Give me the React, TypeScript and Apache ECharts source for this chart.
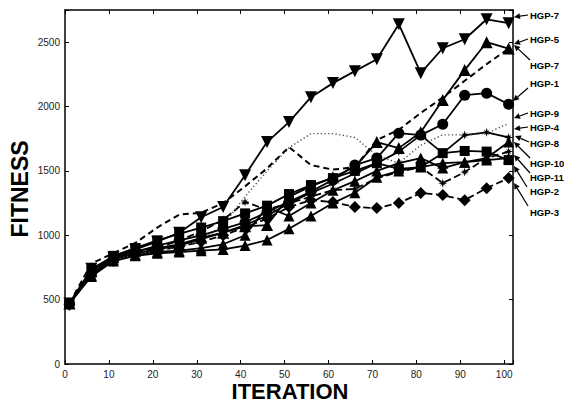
import React, { useEffect, useRef } from "react";
import * as echarts from "echarts";

const ITER = [1, 6, 11, 16, 21, 26, 31, 36, 41, 46, 51, 56, 61, 66, 71, 76, 81, 86, 91, 96, 101];

const HGP7 = [470, 740, 830, 890, 950, 1020, 1140, 1220, 1467, 1724, 1879, 2073, 2182, 2275, 2368, 2640, 2259, 2453, 2523, 2678, 2648];
const HGP5 = [470, 720, 830, 880, 900, 930, 980, 1020, 1070, 1079, 1300, 1380, 1450, 1530, 1724, 1677, 1800, 2050, 2283, 2500, 2450];
const HGP7B = [470, 780, 860, 940, 1060, 1160, 1175, 1250, 1380, 1520, 1685, 1545, 1510, 1530, 1740, 1820, 1950, 2070, 2200, 2330, 2450];
const HGP1 = [470, 700, 820, 870, 920, 960, 1000, 1050, 1100, 1180, 1260, 1340, 1430, 1545, 1600, 1793, 1778, 1863, 2088, 2104, 2018];
const HGP9 = [470, 720, 810, 850, 880, 910, 960, 1080, 1300, 1500, 1680, 1790, 1790, 1760, 1620, 1560, 1700, 1780, 1780, 1790, 1870];
const HGP4 = [470, 700, 820, 860, 890, 920, 970, 1020, 1080, 1150, 1250, 1330, 1400, 1480, 1560, 1650, 1778, 1638, 1778, 1800, 1760];
const HGP8 = [470, 690, 810, 850, 870, 880, 900, 930, 1000, 1219, 1150, 1250, 1350, 1420, 1500, 1560, 1600, 1522, 1568, 1600, 1724];
const HGP10 = [470, 730, 840, 900, 960, 1010, 1060, 1110, 1170, 1230, 1320, 1390, 1444, 1500, 1560, 1515, 1530, 1638, 1655, 1650, 1584];
const HGP11 = [470, 700, 810, 860, 900, 960, 1030, 1120, 1258, 1200, 1250, 1300, 1350, 1360, 1444, 1491, 1530, 1405, 1491, 1600, 1650];
const HGP2 = [470, 680, 800, 840, 860, 870, 880, 890, 920, 963, 1050, 1150, 1250, 1330, 1450, 1500, 1530, 1560, 1568, 1584, 1600];
const HGP3 = [460, 700, 800, 850, 880, 910, 950, 1000, 1060, 1130, 1219, 1273, 1258, 1219, 1211, 1250, 1328, 1312, 1273, 1366, 1444];

const X_TICKS = [0, 10, 20, 30, 40, 50, 60, 70, 80, 90, 100];
const Y_TICKS = [0, 500, 1000, 1500, 2000, 2500];

const LABELS = ["HGP-7", "HGP-5", "HGP-7", "HGP-1", "HGP-9", "HGP-4", "HGP-8", "HGP-10", "HGP-11", "HGP-2", "HGP-3"];

const STAR = "path://M0,-10 L2,-3 L7,-7 L3,-2 L10,0 L3,2 L7,7 L2,3 L0,10 L-2,3 L-7,7 L-3,2 L-10,0 L-3,-2 L-7,-7 L-2,-3 Z";

function pairs(vals: number[]) {
  return ITER.map((x, i) => [x, vals[i]]);
}

function mkSeries(name: string, vals: number[], opts: any) {
  return {
    name,
    type: "line",
    data: pairs(vals),
    symbol: opts.symbol || "none",
    symbolSize: opts.size || 10,
    symbolRotate: opts.rotate || 0,
    showSymbol: opts.symbol ? true : false,
    itemStyle: { color: "#000" },
    lineStyle: { color: opts.color || "#000", width: opts.width || 1.8, type: opts.type || "solid" },
    z: opts.z || 2,
  };
}

// annotation layout (pixels) for the right-hand labels and their arrows
const ANN = [
  { y: 15, tail: [528, 15], head: [514, 17] },
  { y: 39, tail: [528, 39], head: [514, 44] },
  { y: 65, tail: [530, 60], head: [514, 45] },
  { y: 83, tail: [528, 88], head: [513, 101] },
  { y: 113, tail: [528, 113], head: [514, 118] },
  { y: 127, tail: [528, 127], head: [514, 129] },
  { y: 143, tail: [529, 142], head: [515, 136] },
  { y: 163, tail: [530, 158], head: [514, 142] },
  { y: 177, tail: [530, 173], head: [514, 155] },
  { y: 191, tail: [527, 187], head: [514, 166] },
  { y: 212, tail: [528, 206], head: [514, 183] },
];

function arrow(tail: number[], head: number[]) {
  const dx = head[0] - tail[0];
  const dy = head[1] - tail[1];
  const len = Math.sqrt(dx * dx + dy * dy) || 1;
  const ux = dx / len, uy = dy / len;
  const L = 6, W = 3;
  const bx = head[0] - ux * L, by = head[1] - uy * L;
  return [
    { type: "line", shape: { x1: tail[0], y1: tail[1], x2: bx, y2: by }, style: { stroke: "#000", lineWidth: 1.2 } },
    {
      type: "polygon",
      shape: { points: [[head[0], head[1]], [bx - uy * W, by + ux * W], [bx + uy * W, by - ux * W]] },
      style: { fill: "#000" },
    },
  ];
}

export default function App() {
  const ref = useRef<HTMLDivElement>(null);
  useEffect(() => {
    if (!ref.current) return;
    const chart = echarts.init(ref.current, null, { renderer: "svg" });
    const font = "'Liberation Sans', Arial, Helvetica, sans-serif";
    const axisCommon = {
      axisLine: { show: true, onZero: false, lineStyle: { color: "#000", width: 1.5 } },
      axisTick: { show: true, inside: true, length: 4, lineStyle: { color: "#000", width: 1 } },
      splitLine: { show: false },
    };
    const graphics: any[] = [];
    LABELS.forEach((t, i) => {
      const a = ANN[i];
      graphics.push({
        type: "text",
        x: 530,
        y: a.y,
        style: { text: t, fill: "#000", font: "bold 9.5px " + font, textVerticalAlign: "middle", textAlign: "left" },
      });
      arrow(a.tail, a.head).forEach((g) => graphics.push(g));
    });
    graphics.push({
      type: "text",
      x: 290,
      y: 391,
      style: { text: "ITERATION", fill: "#000", font: "bold 22px " + font, textAlign: "center", textVerticalAlign: "middle" },
    });
    graphics.push({
      type: "text",
      x: 20,
      y: 189,
      rotation: Math.PI / 2,
      style: { text: "FITNESS", fill: "#000", font: "bold 23px " + font, textAlign: "center", textVerticalAlign: "middle" },
    });

    chart.setOption({
      animation: false,
      backgroundColor: "#fff",
      grid: { left: 65, right: 51, top: 10, bottom: 38, containLabel: false },
      xAxis: [
        {
          type: "value",
          min: 0,
          max: 102,
          interval: 10,
          position: "bottom",
          ...axisCommon,
          axisLabel: {
            color: "#222",
            fontSize: 10,
            fontFamily: font,
            margin: 5,
            formatter: (v: number) => (X_TICKS.indexOf(v) >= 0 ? String(v) : ""),
          },
        },
        {
          type: "value",
          min: 0,
          max: 102,
          interval: 10,
          position: "top",
          ...axisCommon,
          axisLabel: { show: false },
        },
      ],
      yAxis: [
        {
          type: "value",
          min: 0,
          max: 2750,
          interval: 500,
          position: "left",
          ...axisCommon,
          axisLabel: {
            color: "#222",
            fontSize: 10,
            fontFamily: font,
            margin: 5,
            formatter: (v: number) => (Y_TICKS.indexOf(v) >= 0 ? String(v) : ""),
          },
        },
        {
          type: "value",
          min: 0,
          max: 2750,
          interval: 500,
          position: "right",
          ...axisCommon,
          axisLabel: { show: false },
        },
      ],
      series: [
        mkSeries("HGP-3", HGP3, { symbol: "diamond", size: 12, type: "dashed" }),
        mkSeries("HGP-2", HGP2, { symbol: "triangle", size: 11 }),
        mkSeries("HGP-11", HGP11, { symbol: STAR, size: 9, type: "dashed" }),
        mkSeries("HGP-10", HGP10, { symbol: "rect", size: 10 }),
        mkSeries("HGP-8", HGP8, { symbol: "triangle", size: 11 }),
        mkSeries("HGP-4", HGP4, { symbol: STAR, size: 9 }),
        mkSeries("HGP-9", HGP9, { type: [1.2, 2.5], width: 1.4, color: "#444" }),
        mkSeries("HGP-1", HGP1, { symbol: "circle", size: 11 }),
        mkSeries("HGP-7b", HGP7B, { type: [6, 4], width: 2 }),
        mkSeries("HGP-5", HGP5, { symbol: "triangle", size: 12 }),
        mkSeries("HGP-7", HGP7, { symbol: "triangle", size: 12, rotate: 180 }),
      ],
      graphic: graphics,
    });
    return () => chart.dispose();
  }, []);
  return <div ref={ref} style={{ position: "fixed", left: 0, top: 0, width: 564, height: 402, background: "#fff" }} />;
}
